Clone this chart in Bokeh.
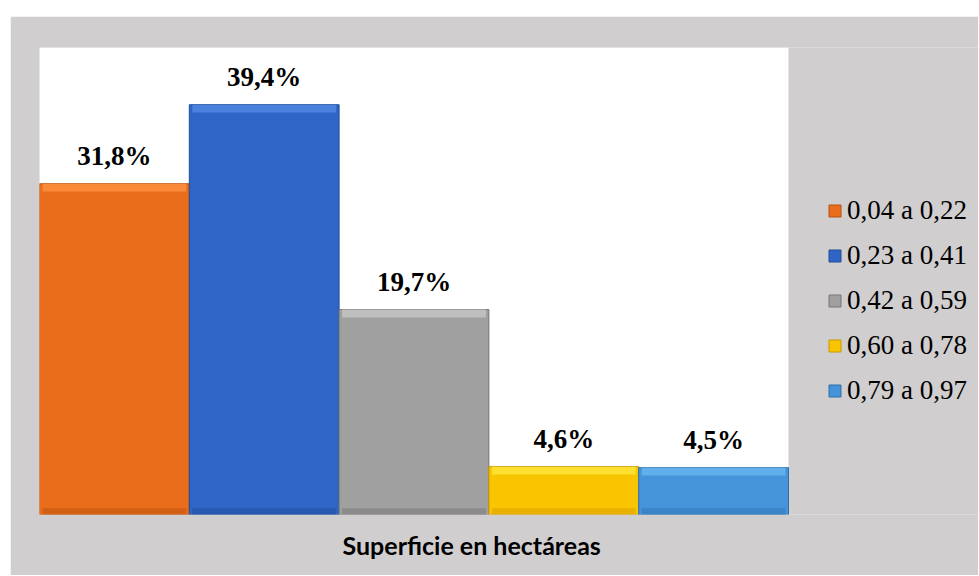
from bokeh.plotting import figure
from bokeh.models import Range1d, ColumnDataSource, Legend, LegendItem, Title, Spacer, BoxAnnotation
from bokeh.layouts import column, row
from bokeh.embed import file_html
from bokeh.resources import INLINE
from bokeh.core.properties import value, field

# ---- data ----
categories = ["0,04 a 0,22", "0,23 a 0,41", "0,42 a 0,59", "0,60 a 0,78", "0,79 a 0,97"]
percentages = [31.8, 39.4, 19.7, 4.6, 4.5]
value_labels = ["31,8%", "39,4%", "19,7%", "4,6%", "4,5%"]
x_title = "Superficie en hectáreas"

# ---- styles ----
bar_colors = ["#e96d1b", "#2f66c6", "#a0a0a0", "#f9c400", "#4594da"]
edge_colors = ["#b4520f", "#214d98", "#767676", "#c79a00", "#2f6fa8"]
top_colors = ["#fd8f3c", "#4f87e2", "#c4c4c4", "#ffe53a", "#66b5ef"]
low_colors = ["#d05d14", "#2856ad", "#888888", "#e8ae00", "#3a82c4"]
bevel = 0.75
n = len(categories)
y_max = 44.9
x_max = n * 939 / 749  # frame extends past the bars to host the legend

src = ColumnDataSource(dict(
    cat=categories,
    xpos=[i + 0.5 for i in range(n)],
    pct=percentages,
    lbl=value_labels,
    color=bar_colors,
    edge=edge_colors,
    topc=top_colors,
    lowc=low_colors,
    bev_bottom=[v - bevel for v in percentages],
    low_top=[bevel * 0.8 for v in percentages],
    zero=[0 for v in percentages],
))

p = figure(
    x_range=Range1d(0, x_max),
    y_range=Range1d(0, y_max),
    width=968, height=559,
    output_backend="svg", toolbar_location=None,
    min_border_left=29, min_border_right=0,
    min_border_top=31, min_border_bottom=61,
)
p.title.visible = False
p.background_fill_color = "#d0cecf"
p.border_fill_color = "#d0cecf"
p.outline_line_color = None
p.axis.visible = False
p.grid.visible = False

# white plot area behind the bars
p.add_layout(BoxAnnotation(left=0, right=n, bottom=0, top=y_max,
                           fill_color="white", fill_alpha=1.0,
                           line_color=None, level="underlay"))

bars = p.vbar(x="xpos", top="pct", bottom=0, width=1.0, source=src,
              fill_color="color", line_color="edge", line_width=1)
p.vbar(x="xpos", top="pct", bottom="bev_bottom", width=0.96, source=src,
       fill_color="topc", line_color=None, fill_alpha=0.85)
p.vbar(x="xpos", top="low_top", bottom="zero", width=0.96, source=src,
       fill_color="lowc", line_color=None, fill_alpha=0.9)

p.text(x="xpos", y="pct", text="lbl", source=src,
       text_align="center", text_baseline="alphabetic", y_offset=-28,
       text_font=value("Liberation Serif"), text_font_size="27px",
       text_font_style="bold", text_color="black")

legend = Legend(
    items=[LegendItem(label=field("cat"), renderers=[bars])],
    location=(788, 108), orientation="vertical",
    padding=0, margin=0, spacing=14,
    glyph_width=15, glyph_height=15, label_height=26, label_standoff=5,
    label_text_font="Liberation Serif", label_text_font_size="27px",
    label_text_color="black",
    background_fill_alpha=0, border_line_color=None,
)
p.add_layout(legend, "center")

t = Title(text=x_title, align="left", offset=303,
          text_font="Lato", text_font_size="25px", text_font_style="bold",
          text_color="black", standoff=27)
p.add_layout(t, "below")

layout = column(Spacer(height=16), row(Spacer(width=10), p))

open("out.html", "w").write(file_html(layout, INLINE))
